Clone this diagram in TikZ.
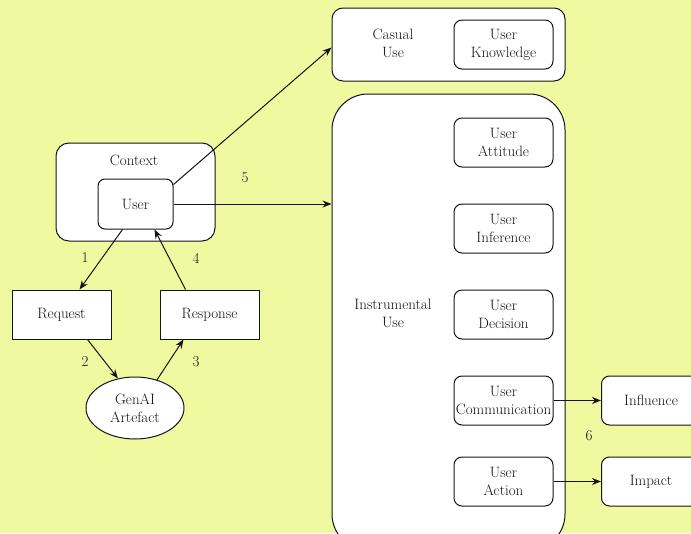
\documentclass[tikz,border=0pt]{standalone}
\usetikzlibrary{shapes.geometric,arrows.meta}
\definecolor{bg}{RGB}{239,249,160}
\definecolor{ln}{RGB}{20,20,20}
\begin{document}
\begin{tikzpicture}[x=1pt,y=-1pt,
  every node/.style={font=\fontsize{15}{18}\selectfont, align=center, inner sep=0pt, text=ln},
  rbox/.style={draw=ln, fill=white, line width=1pt, rounded corners=8pt, minimum width=99pt, minimum height=49pt},
  sbox/.style={draw=ln, fill=white, line width=1pt, minimum width=99pt, minimum height=49pt},
  conn/.style={draw=ln, line width=1pt, -{Stealth[length=9pt,width=7pt]}},
  lbl/.style={font=\fontsize{15}{16}\selectfont}
]
\path[use as bounding box, fill=bg] (0,0) rectangle (691,533);
\clip (0,0) rectangle (691,533);

% Casual use
\node[draw=ln, fill=white, line width=1pt, rounded corners=11pt, minimum width=233pt, minimum height=73pt] (casual) at (448.5,44.5) {};
\node (casualtxt) at (393,43) {Casual\\Use};
\node[rbox] (know) at (503.5,44.5) {User\\Knowledge};

% Instrumental use
\node[draw=ln, fill=white, line width=1pt, rounded corners=36pt, minimum width=233pt, minimum height=456pt] (instr) at (448.5,322) {};
\node (instrtxt) at (393,313) {Instrumental\\Use};
\node[rbox] (att) at (503.5,142.5) {User\\Attitude};
\node[rbox] (inf) at (503.5,228.5) {User\\Inference};
\node[rbox] (dec) at (503.5,314.5) {User\\Decision};
\node[rbox] (com) at (503.5,400.5) {User\\\makebox[99pt]{Communication}};
\node[rbox] (act) at (503.5,481.5) {User\\Action};

\node[rbox] (influence) at (651,400.5) {Influence};
\node[rbox] (impact) at (651,481.5) {Impact};

% Context
\node[draw=ln, fill=white, line width=1pt, rounded corners=13pt, minimum width=159pt, minimum height=98pt] (context) at (135.5,192) {};
\node (contexttxt) at (134,160) {Context};
\node[draw=ln, fill=white, line width=1pt, rounded corners=7pt, minimum width=75pt, minimum height=50pt] (user) at (135.5,204) {User};

\node[sbox] (req) at (61.5,314.5) {Request};
\node[sbox] (resp) at (209.5,314.5) {Response};
\node[draw=ln, fill=white, line width=1pt, ellipse, minimum width=98pt, minimum height=62pt] (genai) at (135,408) {GenAI\\Artefact};

% connectors
\draw[conn] ([xshift=-13pt]user.south) -- ([xshift=18pt]req.north);
\draw[conn] ([xshift=26pt]req.south) -- (genai.120);
\draw[conn] (genai.52) -- ([xshift=-26pt]resp.south);
\draw[conn] ([xshift=-24pt]resp.north) -- ([xshift=19pt]user.south);
\draw[conn] ([yshift=-6pt]user.north east) -- ([yshift=-3pt]casual.west);
\draw[conn] (user.east) -- (user.east -| instr.west);
\draw[conn] (com.east) -- (influence.west);
\draw[conn] (act.east) -- (impact.west);

% labels
\node[lbl] (l1) at (85,258) {1};
\node[lbl] (l2) at (85,362) {2};
\node[lbl] (l3) at (196,362) {3};
\node[lbl] (l4) at (196,258) {4};
\node[lbl] (l5) at (245,178) {5};
\node[lbl] (l6) at (589,436) {6};
\end{tikzpicture}
\end{document}
